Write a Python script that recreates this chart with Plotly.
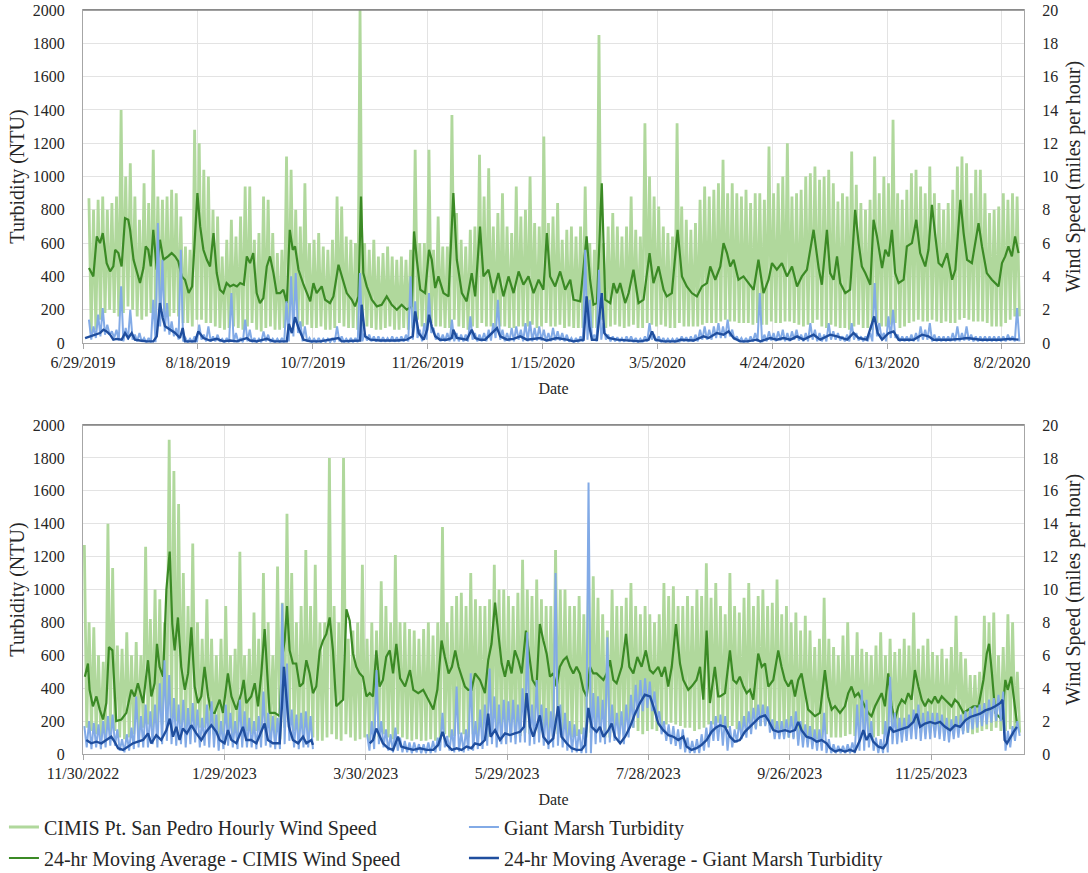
import pandas as pd
import plotly.graph_objects as go

# ---------------------------------------------------------------------------
# Hourly records summarised as 2-day bins: highest and lowest hourly value
# in each bin (wind in mph, turbidity in NTU).
# ---------------------------------------------------------------------------
BIN_START_2019 = "2019-07-01"
BIN_START_2022 = "2022-11-30"

wind_hi_2019 = [
    8.7, 8.0, 8.6, 8.8, 8.0, 8.4, 8.8, 14.0, 10.0, 10.8,
    8.8, 7.4, 9.6, 8.4, 11.6, 8.8, 8.6, 8.8, 9.2, 9.0,
    7.6, 5.8, 5.6, 12.8, 12.0, 10.4, 10.0, 8.0, 7.6, 5.2,
    6.2, 7.4, 6.4, 7.6, 9.4, 9.4, 6.2, 6.6, 8.8, 8.6,
    6.6, 5.4, 5.6, 11.2, 10.4, 8.0, 7.0, 9.6, 6.0, 6.2,
    6.6, 5.8, 5.6, 6.2, 8.8, 8.2, 6.4, 6.2, 6.0, 20.0,
    6.0, 5.6, 6.2, 5.2, 5.4, 5.8, 5.2, 5.0, 5.2, 5.0,
    5.6, 11.6, 6.0, 6.0, 11.6, 5.6, 7.6, 5.8, 5.8, 13.7,
    7.8, 6.2, 5.8, 6.8, 7.0, 11.3, 8.8, 10.5, 7.0, 7.8,
    9.0, 7.0, 6.6, 9.4, 7.6, 8.0, 10.0, 7.2, 7.0, 12.4,
    7.2, 7.6, 8.4, 6.2, 6.8, 7.0, 6.4, 7.0, 9.4, 6.0,
    5.6, 18.5, 6.0, 7.0, 7.8, 7.0, 6.4, 7.0, 8.8, 6.8,
    6.4, 13.2, 10.0, 8.8, 8.2, 7.0, 6.6, 6.4, 13.2, 8.2,
    7.4, 6.8, 7.2, 8.6, 9.4, 8.8, 9.2, 9.6, 11.0, 9.0,
    9.6, 9.0, 8.8, 9.2, 8.4, 9.0, 9.0, 8.6, 11.8, 9.0,
    9.6, 10.0, 12.0, 8.8, 9.0, 9.2, 10.0, 10.2, 10.6, 9.8,
    10.0, 10.4, 9.6, 8.5, 9.0, 8.8, 11.5, 9.5, 8.4, 8.0,
    8.6, 11.2, 9.0, 10.0, 9.6, 13.4, 9.0, 8.6, 9.2, 10.2,
    10.4, 9.4, 9.0, 10.6, 9.0, 8.4, 8.0, 8.4, 9.2, 10.6,
    11.2, 10.8, 9.0, 10.4, 10.4, 9.0, 7.8, 8.0, 8.2, 9.0,
    8.6, 9.0, 8.8,
]
wind_lo_2019 = [
    0.6, 0.8, 1.4, 1.8, 2.0, 1.8, 1.6, 1.8, 2.2, 2.0,
    1.6, 1.4, 1.6, 1.8, 1.6, 2.0, 1.8, 1.6, 1.8, 1.6,
    1.2, 1.2, 1.0, 1.4, 1.4, 1.2, 1.2, 1.0, 0.9, 0.8,
    0.9, 1.0, 0.9, 0.8, 1.0, 1.2, 0.8, 0.7, 0.9, 1.0,
    0.8, 0.8, 0.9, 1.4, 1.6, 1.2, 1.0, 1.1, 0.9, 0.9,
    1.0, 0.8, 0.8, 0.9, 1.2, 1.0, 0.9, 0.9, 0.8, 1.0,
    1.0, 0.9, 0.8, 0.8, 0.9, 1.0, 0.8, 0.8, 0.9, 0.8,
    0.9, 1.4, 1.0, 0.9, 1.2, 1.0, 1.0, 0.9, 0.9, 1.4,
    1.0, 0.9, 0.8, 1.0, 0.9, 1.2, 1.0, 1.0, 0.9, 1.0,
    1.0, 0.9, 0.9, 1.0, 1.0, 1.0, 1.1, 0.9, 1.0, 1.2,
    1.0, 1.0, 1.1, 0.9, 1.0, 0.9, 0.9, 0.9, 1.2, 0.9,
    0.9, 1.4, 0.9, 1.0, 1.1, 1.0, 0.9, 1.0, 1.1, 0.9,
    0.9, 1.2, 1.1, 1.0, 1.1, 1.0, 0.9, 0.9, 1.2, 1.0,
    1.0, 1.0, 1.0, 1.1, 1.2, 1.2, 1.2, 1.3, 1.4, 1.3,
    1.3, 1.2, 1.2, 1.2, 1.1, 1.2, 1.1, 1.1, 1.3, 1.2,
    1.2, 1.3, 1.3, 1.2, 1.1, 1.0, 1.1, 1.2, 1.4, 1.0,
    0.9, 1.1, 1.0, 0.9, 0.9, 0.8, 1.0, 1.1, 0.9, 0.9,
    0.8, 1.2, 1.0, 1.0, 1.1, 1.2, 0.9, 1.0, 1.2, 1.3,
    1.4, 1.3, 1.3, 1.4, 1.3, 1.2, 1.3, 1.2, 1.2, 1.4,
    1.5, 1.4, 1.3, 1.3, 1.3, 1.2, 1.0, 1.0, 1.0, 1.2,
    1.4, 1.6, 1.6,
]
turb_hi_2019 = [
    140, 100, 170, 210, 110, 70, 80, 340, 90, 200,
    50, 60, 30, 30, 260, 720, 500, 240, 130, 90,
    560, 30, 25, 40, 110, 50, 100, 40, 50, 25,
    30, 300, 60, 30, 140, 80, 30, 25, 70, 50,
    25, 25, 30, 250, 400, 420, 130, 100, 30, 25,
    30, 25, 25, 30, 100, 40, 25, 30, 30, 420,
    60, 50, 40, 40, 35, 30, 40, 35, 40, 50,
    400, 250, 80, 120, 300, 90, 60, 50, 60, 140,
    60, 50, 50, 160, 60, 50, 60, 80, 120, 260,
    80, 60, 90, 100, 80, 120, 130, 90, 100, 80,
    60, 90, 70, 60, 50, 30, 30, 40, 560, 260,
    50, 440, 120, 50, 40, 35, 30, 40, 40, 30,
    25, 40, 120, 50, 40, 30, 25, 25, 30, 40,
    35, 40, 50, 80, 100, 80, 100, 120, 100, 140,
    80, 40, 30, 30, 40, 60, 300, 50, 70, 60,
    70, 80, 60, 70, 80, 50, 60, 120, 80, 60,
    50, 120, 70, 60, 40, 50, 120, 60, 40, 40,
    60, 360, 120, 60, 160, 200, 50, 40, 40, 50,
    60, 100, 80, 120, 50, 40, 40, 40, 60, 100,
    60, 100, 50, 40, 40, 40, 40, 40, 40, 40,
    50, 40, 210,
]
turb_lo_2019 = [
    20, 30, 40, 50, 50, 30, 15, 10, 20, 20,
    10, 8, 5, 5, 5, 100, 70, 50, 40, 20,
    10, 5, 5, 5, 20, 10, 8, 10, 8, 5,
    5, 5, 5, 5, 10, 5, 5, 5, 10, 5,
    5, 5, 5, 10, 40, 60, 10, 8, 5, 5,
    5, 5, 5, 5, 10, 5, 5, 5, 5, 10,
    15, 10, 8, 8, 8, 8, 8, 8, 8, 10,
    20, 30, 10, 20, 60, 20, 10, 10, 10, 10,
    10, 10, 10, 20, 10, 10, 10, 15, 30, 20,
    10, 10, 10, 20, 10, 10, 10, 15, 15, 10,
    10, 15, 15, 10, 8, 5, 5, 8, 20, 20,
    10, 20, 20, 10, 10, 8, 8, 8, 5, 5,
    5, 8, 20, 10, 5, 5, 5, 5, 5, 10,
    8, 8, 10, 20, 20, 20, 30, 30, 30, 40,
    20, 8, 5, 5, 8, 8, 5, 10, 15, 10,
    15, 10, 10, 20, 15, 10, 10, 20, 10, 10,
    10, 20, 20, 15, 10, 10, 20, 15, 10, 10,
    10, 40, 30, 10, 30, 30, 10, 10, 10, 10,
    10, 20, 20, 10, 10, 10, 10, 10, 10, 10,
    15, 15, 10, 10, 10, 10, 10, 10, 10, 10,
    15, 10, 10,
]

wind_hi_2022 = [
    12.7, 8.0, 7.7, 6.0, 5.6, 14.0, 11.3, 6.6, 6.4, 7.4,
    6.0, 6.8, 6.0, 12.6, 8.2, 10.0, 9.4, 8.0, 19.1, 17.2,
    15.2, 11.0, 9.0, 12.8, 8.0, 7.0, 9.4, 7.0, 6.0, 7.0,
    9.0, 6.0, 6.4, 12.3, 6.0, 6.4, 8.6, 7.0, 11.0, 8.0,
    6.0, 11.4, 9.2, 14.6, 11.0, 8.0, 9.0, 12.4, 9.0, 11.5,
    8.0, 8.0, 18.0, 9.0, 8.0, 18.0, 7.0, 7.5, 8.0, 11.5,
    7.0, 8.0, 7.5, 10.5, 9.0, 8.0, 12.1, 8.0, 8.0, 7.6,
    7.5, 7.0, 7.6, 8.0, 7.2, 8.0, 13.8, 8.0, 9.0, 9.6,
    9.8, 9.0, 11.0, 9.4, 9.0, 9.0, 9.4, 11.5, 10.0, 10.0,
    9.6, 9.0, 9.8, 11.8, 10.0, 9.6, 10.6, 9.4, 9.0, 9.0,
    12.4, 10.0, 10.0, 9.0, 9.0, 9.6, 8.5, 10.5, 10.8, 9.5,
    8.5, 7.5, 10.0, 9.0, 9.0, 9.5, 10.4, 9.0, 8.5, 9.0,
    8.5, 8.0, 8.5, 10.4, 9.6, 10.2, 9.0, 9.0, 9.6, 9.0,
    10.0, 9.6, 11.6, 9.5, 10.4, 9.0, 8.5, 11.0, 9.0, 8.6,
    9.5, 10.4, 9.0, 9.6, 10.0, 9.0, 9.2, 10.6, 8.5, 9.0,
    8.0, 8.6, 7.5, 8.4, 7.5, 6.5, 7.0, 9.5, 7.0, 6.5,
    6.0, 7.2, 8.0, 6.0, 7.4, 6.4, 6.2, 6.0, 6.6, 7.4,
    6.0, 7.0, 6.2, 6.4, 7.0, 6.6, 8.6, 6.4, 6.6, 7.0,
    6.2, 6.0, 6.4, 5.8, 6.5, 8.4, 6.2, 5.8, 4.8, 4.8,
    5.0, 8.4, 8.0, 8.6, 6.0, 6.5, 8.5, 8.0, 5.0,
]
wind_lo_2022 = [
    1.6, 1.4, 1.2, 1.0, 1.0, 1.2, 1.4, 1.0, 0.9, 1.0,
    1.2, 1.4, 1.6, 1.8, 1.6, 1.4, 1.8, 2.0, 2.2, 2.0,
    1.8, 1.6, 1.8, 1.6, 1.6, 1.6, 1.4, 1.2, 1.0, 1.2,
    1.4, 1.2, 1.0, 1.2, 1.4, 1.2, 1.4, 1.0, 1.6, 1.2,
    1.0, 0.9, 1.6, 2.0, 1.4, 1.2, 1.0, 1.2, 1.0, 0.8,
    0.8, 1.0, 1.2, 0.9, 0.8, 1.2, 1.0, 0.8, 0.9, 1.0,
    0.8, 0.9, 1.0, 1.2, 1.0, 0.9, 1.2, 1.0, 0.9, 0.8,
    0.9, 0.8, 0.8, 0.9, 0.8, 0.9, 1.2, 1.0, 1.1, 1.2,
    1.2, 1.0, 1.2, 1.1, 1.0, 1.0, 1.2, 1.4, 1.2, 1.2,
    1.1, 1.0, 1.1, 1.3, 1.2, 1.1, 1.3, 1.2, 1.2, 1.1,
    1.2, 1.2, 1.1, 1.0, 1.1, 1.2, 1.0, 1.3, 1.4, 1.2,
    1.0, 1.0, 1.4, 1.2, 1.3, 1.5, 1.6, 1.4, 1.2, 1.4,
    1.5, 1.4, 1.6, 1.8, 1.9, 1.8, 1.7, 1.6, 1.6, 1.4,
    1.5, 1.6, 1.8, 1.8, 1.9, 1.8, 1.6, 1.7, 1.5, 1.4,
    1.5, 1.6, 1.6, 1.7, 1.8, 1.7, 1.4, 1.3, 1.2, 1.0,
    1.0, 0.9, 0.9, 1.0, 1.0, 0.9, 0.9, 1.2, 1.0, 1.0,
    1.0, 1.1, 1.2, 1.1, 1.2, 1.2, 1.1, 1.0, 1.1, 1.2,
    1.1, 1.3, 1.3, 1.2, 1.3, 1.4, 1.5, 1.3, 1.2, 1.3,
    1.4, 1.4, 1.3, 1.3, 1.4, 1.5, 1.4, 1.3, 1.2, 1.3,
    1.4, 1.5, 1.4, 1.6, 1.4, 1.4, 1.5, 1.4, 1.3,
]
turb_hi_2022 = [
    170, 200, 190, 180, 200, 230, 240, 150, 90, 120,
    160, 350, 230, 300, 260, 300, 430, 570, 480, 340,
    300, 330, 280, 310, 270, 220, 300, 320, 240, 200,
    300, 250, 200, 330, 260, 220, 200, 230, 380, 250,
    230, 220, 915, 550, 270, 240, 250, 260, 230, None,
    None, None, None, None, None, None, None, None, None, None,
    120, 200, 510, 200, 150, 120, 160, 100, 80, 70,
    70, 60, 60, 70, 80, 100, 250, 110, 150, 410,
    130, 150, 490, 200, 270, 300, 520, 350, 300, 330,
    320, 330, 300, 400, 740, 300, 450, 300, 280, 260,
    1100, 300, 250, 200, 180, 150, 160, 1650, 370, 350,
    330, 710, 300, 250, 260, 300, 360, 420, 450, 460,
    440, 380, 260, 200, 180, 170, 150, 150, 100, 80,
    90, 120, 160, 200, 230, 240, 230, 170, 150, 200,
    230, 260, 280, 300, 300, 290, 210, 200, 200, 210,
    230, 260, 200, 180, 170, 150, 150, 250, 90, 60,
    50, 50, 60, 70, 300, 390, 330, 200, 100, 90,
    200, 470, 250, 220, 220, 240, 270, 300, 250, 260,
    250, 250, 240, 220, 210, 230, 240, 260, 280, 290,
    300, 310, 330, 340, 360, 380, 140, 170, 200,
]
turb_lo_2022 = [
    40, 30, 40, 30, 40, 50, 50, 20, 10, 20,
    30, 40, 40, 40, 60, 40, 60, 80, 60, 50,
    60, 40, 60, 70, 40, 50, 40, 40, 20, 30,
    50, 40, 30, 40, 40, 40, 30, 40, 50, 40,
    30, 30, 60, 80, 40, 30, 40, 40, 30, None,
    None, None, None, None, None, None, None, None, None, None,
    20, 30, 60, 40, 20, 10, 20, 10, 10, 5,
    10, 5, 5, 5, 10, 20, 40, 20, 10, 15,
    10, 20, 20, 30, 30, 50, 60, 40, 60, 60,
    70, 60, 70, 70, 50, 60, 70, 50, 30, 40,
    50, 40, 20, 10, 10, 5, 5, 5, 60, 70,
    60, 70, 80, 80, 60, 100, 160, 220, 260, 280,
    260, 200, 120, 80, 60, 50, 30, 10, 5, 5,
    5, 20, 40, 80, 80, 50, 20, 40, 70, 90,
    100, 120, 150, 170, 170, 130, 90, 90, 90, 100,
    90, 50, 40, 40, 30, 20, 20, 5, 5, 5,
    5, 5, 5, 5, 20, 20, 40, 20, 5, 5,
    10, 60, 60, 70, 80, 90, 90, 80, 90, 90,
    100, 90, 80, 70, 90, 100, 120, 130, 150, 160,
    170, 180, 190, 200, 200, 20, 40, 80, 110,
]

# ---------------------------------------------------------------------------
# 24-hr moving averages as (days after origin, value) pairs.
# ---------------------------------------------------------------------------
ORIGIN_2019 = "2019-06-29"
ORIGIN_2022 = "2022-11-30"

wind_avg_2019 = [
    (2.6, 4.5), (4.5, 4.0), (6, 6.4), (7.4, 6.0), (8.6, 6.6), (10.3, 4.8), (11.8, 4.3),
    (13.2, 4.6), (14, 5.6), (15.4, 5.4), (16.8, 4.6), (18.3, 7.5), (19.7, 7.4), (20.5, 6.8),
    (22, 5.0), (23.4, 4.3), (24.8, 3.6), (26.3, 4.5), (27.3, 5.8), (28.4, 5.6), (29.5, 4.6),
    (30.6, 6.8), (32.1, 4.4), (33.5, 6.2), (35, 5.0), (37, 5.2), (38.6, 5.4), (40.1, 5.2),
    (41.5, 4.9), (43, 4.0), (44.4, 3.8), (46, 3.0), (47.5, 3.4), (49.8, 9.0), (51, 7.0),
    (52.4, 5.6), (53.9, 5.0), (55.3, 4.6), (56.8, 6.6), (58.2, 4.2), (59.6, 3.2), (61.1, 3.0),
    (62.5, 3.6), (64, 3.4), (65.5, 3.5), (67, 3.4), (68.4, 3.6), (70, 3.5), (71.3, 5.2),
    (72.7, 4.8), (74.1, 5.4), (75.6, 3.0), (77, 2.4), (78.5, 2.7), (80, 4.6), (81.4, 5.2),
    (82.9, 4.2), (84.3, 3.0), (85.8, 3.0), (87.2, 3.2), (88.7, 2.4), (90, 6.8), (91.3, 5.6),
    (92.3, 5.8), (93.8, 4.4), (96, 3.5), (98.9, 2.5), (100.3, 3.6), (101.7, 3.0), (103.9, 3.4),
    (105.4, 2.6), (107.5, 2.4), (109, 2.8), (111.2, 4.7), (112.6, 4.0), (114.8, 3.0), (117, 2.6),
    (118.4, 2.2), (119.9, 2.8), (121, 8.8), (122, 4.2), (123.5, 3.4), (125.7, 2.6), (127.9, 2.2),
    (130, 2.3), (132.2, 2.8), (134.4, 2.3), (136.6, 2.0), (138.7, 2.3), (140.9, 2.0), (143.1, 2.2),
    (144.1, 6.7), (145.3, 5.0), (146.8, 3.2), (148.9, 3.0), (150.6, 5.6), (151.8, 5.0), (153.3, 3.3),
    (154.7, 4.0), (156.9, 3.0), (159.1, 2.8), (161.2, 9.0), (162.7, 5.0), (164.9, 3.0), (167, 2.5),
    (169.2, 4.2), (170.7, 2.8), (172.8, 7.0), (174.3, 4.0), (176.5, 4.4), (178.6, 3.0), (180.8, 4.2),
    (183, 2.8), (185.2, 4.0), (187.4, 3.0), (189.6, 4.3), (191.7, 3.5), (193.9, 4.0), (196.1, 3.0),
    (198.3, 3.8), (200.4, 3.2), (201.9, 6.6), (203.3, 4.0), (205.5, 3.4), (207.7, 4.3), (209.9, 3.2),
    (212.1, 3.8), (213.5, 2.6), (216.4, 2.5), (219.2, 6.4), (220.7, 3.8), (222.2, 2.3), (223.7, 2.4),
    (225.8, 9.6), (227.3, 2.6), (229.5, 2.4), (230.9, 3.6), (232.4, 3.0), (233.8, 3.6), (236, 2.4),
    (237.5, 3.0), (239.6, 4.4), (241.8, 2.4), (244, 2.6), (246.6, 5.4), (248.3, 3.6), (250.5, 4.6),
    (252.7, 3.2), (254.1, 2.8), (256.3, 3.0), (258.8, 6.8), (260.7, 4.0), (262.8, 3.4), (265, 3.0),
    (267.2, 2.8), (269.4, 3.4), (271.6, 3.6), (273, 4.6), (275.2, 3.8), (277.4, 4.6), (278.8, 6.0),
    (280.3, 5.4), (281.7, 4.6), (283.2, 5.0), (285.3, 3.8), (287.5, 4.0), (289.7, 3.6), (291.9, 3.2),
    (294, 5.0), (296.2, 3.0), (298.4, 3.8), (299.9, 4.8), (302, 4.4), (304.2, 4.8), (306.4, 4.0),
    (308.6, 4.6), (310.8, 3.4), (312.9, 4.0), (315.1, 4.4), (318, 6.8), (320.2, 4.5), (321.6, 3.5),
    (323.8, 6.8), (325.2, 4.2), (326.7, 3.8), (328.2, 5.2), (329.6, 3.6), (331.8, 3.0), (333.9, 3.2),
    (336.1, 8.0), (337.6, 6.0), (339, 4.6), (340.5, 4.2), (342.7, 3.5), (344.1, 7.4), (345.6, 6.4),
    (347.8, 4.5), (349.2, 5.6), (350.7, 5.2), (352.1, 6.8), (353.5, 4.2), (355, 3.6), (357.2, 3.8),
    (358.6, 5.8), (360.8, 6.0), (362.7, 7.4), (364.4, 5.4), (366.6, 4.6), (368, 5.6), (369.5, 8.3),
    (371, 6.4), (372.4, 4.8), (373.9, 4.6), (376.1, 5.4), (378.3, 3.8), (379.7, 4.4), (381.9, 8.6),
    (383.3, 6.6), (384.8, 5.0), (386.9, 4.8), (389.8, 7.2), (391.3, 5.8), (393.4, 4.2), (395.6, 3.8),
    (398.5, 3.4), (400, 4.8), (401.4, 5.2), (402.8, 5.8), (404.3, 5.2), (405.7, 6.4), (407.2, 5.4),
]
turb_avg_2019 = [
    (0.9, 30), (3, 40), (6, 50), (7.4, 60), (8.9, 80), (10.3, 70), (11.8, 50), (13.2, 20),
    (14.7, 25), (16.8, 20), (18.3, 60), (19.7, 30), (21.2, 60), (22.6, 20), (24.8, 15),
    (27.7, 10), (30.6, 10), (32.1, 40), (33.5, 240), (34.7, 150), (35.7, 100), (37.9, 80),
    (40.1, 60), (42.2, 30), (43.4, 90), (44.4, 10), (48.8, 10), (50.2, 70), (52.4, 30),
    (55.3, 15), (58.2, 25), (61.1, 10), (64, 15), (66.9, 10), (71.3, 30), (72.7, 15),
    (75.6, 10), (80, 25), (82.9, 10), (88.7, 10), (89.6, 115), (90.9, 60), (92.3, 155),
    (93.8, 90), (96, 20), (98.9, 10), (103.2, 10), (111.2, 30), (112.6, 10), (120.6, 15),
    (121.3, 230), (122.8, 40), (125, 20), (129.3, 15), (136.6, 15), (140.9, 20), (143.5, 40),
    (144.6, 190), (146.1, 60), (148.3, 20), (149.8, 80), (150.6, 170), (151.8, 100), (153.3, 40),
    (155.4, 20), (158.3, 20), (160.5, 30), (161.2, 80), (162.7, 30), (167, 20), (169.2, 80),
    (170.7, 30), (172.8, 20), (175, 20), (176.5, 40), (180.2, 90), (181.6, 40), (184.6, 20),
    (187.4, 25), (190.3, 40), (193.2, 20), (196.1, 25), (199, 30), (201.9, 15), (206.2, 30),
    (210.6, 20), (213.5, 10), (217.9, 20), (219.2, 280), (220.4, 100), (221.5, 20), (223.7, 20),
    (225.8, 300), (226.9, 60), (228.7, 30), (232.4, 20), (236.8, 15), (242.5, 10), (246.2, 20),
    (247.7, 70), (249.1, 20), (252.7, 10), (258.5, 10), (260, 20), (265.8, 15), (270.1, 40),
    (272.3, 30), (275.9, 60), (278.8, 50), (281, 70), (283.2, 30), (286.1, 10), (289, 10),
    (293.4, 20), (294.8, 10), (299.1, 30), (302, 20), (304.9, 30), (307.9, 20), (310.8, 40),
    (313.6, 20), (318, 50), (320.9, 20), (325.2, 50), (328.2, 40), (332.6, 20), (335.4, 60),
    (337.6, 30), (341.2, 20), (344.4, 160), (345.9, 60), (347.8, 20), (350.7, 60), (352.8, 70),
    (355, 20), (361.5, 20), (365.2, 50), (368, 40), (370.2, 20), (377.4, 20), (381.9, 25),
    (384.8, 30), (390.6, 20), (399.3, 20), (403.6, 25), (407.2, 20),
]

wind_avg_2022 = [
    (0.8, 4.7), (2.1, 5.5), (2.8, 3.9), (4.2, 2.9), (5.7, 3.5), (7.1, 2.7), (8.5, 2.1), (9.9, 3.1),
    (11, 6.5), (12.5, 6.3), (13.4, 3.9), (14.1, 2.0), (16.3, 2.1), (18.4, 2.5), (20.5, 3.9),
    (21.9, 3.5), (23.3, 4.3), (25.5, 3.1), (27.6, 5.7), (29, 3.5), (30.4, 4.3), (31.4, 6.7),
    (32.5, 5.3), (34, 4.7), (35.4, 10.0), (36.8, 12.3), (37.9, 7.9), (38.9, 6.3), (40.3, 8.3),
    (41.7, 5.3), (43.2, 3.9), (44.6, 4.9), (46, 7.7), (47.4, 4.1), (48.8, 3.1), (50.2, 3.5),
    (51.6, 5.3), (53.1, 3.5), (54.5, 2.5), (55.9, 2.5), (58, 3.3), (59.4, 2.5), (61.5, 4.9),
    (63, 3.5), (65.1, 2.7), (67.2, 3.7), (68.2, 4.5), (69.3, 3.1), (71.4, 3.5), (72.9, 4.3),
    (74.3, 2.9), (75.7, 4.9), (77.1, 7.6), (78.1, 5.3), (79.2, 2.5), (81.4, 2.5), (83.5, 2.3),
    (84.6, 5.9), (85.6, 6.9), (86.6, 9.0), (87.7, 6.3), (89.1, 5.5), (90.5, 5.5), (92, 4.1),
    (93.4, 4.3), (94.8, 5.7), (96.2, 4.9), (97.6, 3.7), (99, 4.1), (100.5, 6.3), (101.9, 6.9),
    (103.3, 7.3), (104.7, 8.3), (106.1, 6.3), (107.5, 2.9), (108.9, 3.1), (110.4, 3.3),
    (111.8, 8.8), (113.2, 8.1), (114.6, 6.1), (116, 5.3), (117.4, 4.9), (118.8, 4.7), (120.3, 3.5),
    (121.7, 3.7), (123.1, 3.5), (124.5, 6.3), (125.9, 4.1), (127.3, 4.5), (128.7, 5.9),
    (130.2, 6.3), (131.6, 4.9), (133, 6.7), (134.6, 4.6), (136.7, 4.1), (138.8, 5.1), (140.2, 3.9),
    (142.3, 3.7), (144.4, 3.9), (146.6, 3.3), (148.7, 2.7), (150.4, 3.9), (152.2, 6.9),
    (153.6, 5.9), (155.2, 4.9), (156.6, 5.3), (158, 6.3), (159.4, 5.3), (160.7, 4.7), (162.1, 4.1),
    (163.5, 3.9), (164.9, 3.9), (166.4, 4.9), (168.5, 4.5), (170.6, 3.7), (172, 5.7), (173.4, 6.7),
    (174.9, 9.2), (176.3, 7.3), (177.7, 5.5), (179.1, 4.7), (180.5, 5.7), (181.9, 4.9),
    (183.3, 6.3), (184.8, 5.7), (186.2, 4.9), (188, 7.5), (189.4, 5.9), (190.8, 4.5), (192.5, 4.1),
    (193.9, 7.9), (195.4, 6.9), (196.8, 6.1), (198.2, 4.7), (199.6, 4.9), (201, 4.1), (202.4, 5.3),
    (203.9, 5.7), (205.3, 5.9), (206.7, 5.3), (208.1, 4.9), (209.5, 5.3), (210.9, 4.9),
    (212.4, 3.9), (213.8, 3.5), (215.2, 5.3), (216.6, 4.9), (218, 4.9), (219.4, 4.7), (220.9, 4.5),
    (222.3, 4.9), (223.7, 5.7), (225.1, 4.5), (226.5, 4.3), (228.7, 5.3), (230.5, 7.3),
    (231.9, 5.3), (233.6, 4.9), (235.3, 5.9), (237.1, 5.3), (238.9, 6.3), (240.6, 5.1), (242, 4.9),
    (244.2, 5.3), (245.6, 4.7), (247, 5.3), (248.4, 4.1), (249.9, 5.3), (251.7, 7.9), (253.4, 5.5),
    (254.8, 4.5), (256.9, 3.9), (258.3, 4.1), (260.4, 4.5), (261.9, 5.3), (263.3, 3.3),
    (264.7, 7.5), (266.1, 3.1), (268.2, 5.3), (269.6, 3.5), (270.4, 3.5), (272.5, 3.7),
    (274.6, 6.3), (276, 4.5), (277.4, 4.3), (278.8, 4.7), (280.3, 4.1), (281.7, 3.7), (283.1, 3.9),
    (284.5, 3.3), (286.6, 6.1), (288.1, 5.3), (289.5, 5.5), (290.9, 4.1), (293, 4.5), (295.1, 6.3),
    (296.5, 5.3), (297.9, 4.5), (299.4, 4.1), (300.8, 4.5), (302.2, 3.5), (303.6, 4.5), (305, 4.9),
    (306.4, 3.7), (307.8, 2.7), (309.3, 2.5), (310.7, 2.3), (312.8, 2.5), (314.9, 5.1),
    (316.3, 3.5), (317.8, 2.7), (319.2, 2.9), (321.3, 2.5), (323.4, 2.9), (324.8, 3.7),
    (326.2, 4.1), (327.6, 3.5), (329.1, 3.7), (330.5, 3.3), (331.9, 2.9), (333.3, 2.5),
    (334.7, 2.3), (336.2, 2.9), (337.6, 3.3), (339, 3.7), (340.4, 2.9), (341.8, 4.9), (343.2, 2.9),
    (344.6, 2.1), (346.1, 2.9), (347.5, 3.3), (348.9, 3.1), (350.3, 3.7), (351.7, 3.3),
    (353.1, 5.1), (354.6, 4.1), (356, 3.3), (357.4, 2.9), (358.8, 3.3), (360.2, 3.1), (361.6, 3.5),
    (363, 3.1), (364.5, 3.5), (365.9, 3.3), (367.3, 3.1), (368.7, 2.9), (370.1, 3.3), (371.5, 3.1),
    (373.7, 2.5), (375.8, 2.7), (377.9, 2.9), (380.1, 2.9), (382.2, 4.5), (383.6, 6.1),
    (384.6, 6.7), (385.8, 4.9), (387.2, 2.5), (388.6, 2.3), (390, 2.1), (391.5, 4.5), (392.5, 3.9),
    (394, 4.7), (395, 3.5), (396.4, 1.9),
]
turb_avg_2022 = [
    (1.4, 85), (3.5, 65), (5.7, 75), (7.8, 65), (9.9, 85), (12, 105), (13.4, 75), (14.9, 35),
    (17, 25), (19.1, 45), (21.2, 65), (23.3, 75), (25.5, 85), (27.6, 125), (29, 65), (31.1, 115),
    (33.2, 85), (35.4, 145), (36.8, 215), (38.2, 105), (39.6, 165), (41, 85), (42.4, 155),
    (44.1, 125), (46, 175), (48.1, 125), (50.2, 85), (52.3, 135), (54.5, 175), (56.6, 135),
    (58, 85), (60.1, 65), (61.5, 145), (63, 85), (65.1, 65), (67.9, 165), (69.3, 85), (71.4, 85),
    (73.6, 65), (77.1, 185), (78.5, 85), (80.6, 65), (83.5, 65), (84.6, 330), (85.3, 530),
    (86.3, 350), (87.4, 165), (89.1, 85), (91.3, 65), (93.4, 105), (94.8, 65), (96.9, 85),
    (97.6, 55), (110, None), (121.7, 65), (123.1, 85), (124.5, 155), (125.9, 105), (127.3, 65),
    (129.5, 35), (131.6, 25), (133.7, 105), (135.1, 45), (137.4, 35), (140.2, 25), (143, 35),
    (145.9, 25), (148.7, 25), (150.8, 55), (152.6, 135), (154.4, 55), (156.6, 25), (158.6, 35),
    (160.7, 25), (162.8, 45), (164.9, 35), (166.4, 65), (168.5, 55), (170.6, 85), (172, 245),
    (173, 105), (174.9, 145), (177, 85), (179.1, 125), (181.2, 115), (183.3, 125), (185.5, 135),
    (187.2, 165), (188.3, 370), (189.7, 165), (191.1, 105), (192.5, 165), (193.9, 235),
    (195.4, 105), (197.5, 65), (199.6, 95), (201.7, 290), (203.1, 105), (205.3, 65), (207.4, 35),
    (209.5, 25), (211.6, 25), (213.1, 55), (214.5, 280), (215.9, 165), (218, 135), (219.4, 165),
    (220.9, 105), (223, 145), (224.4, 185), (225.8, 105), (228, 65), (230.1, 105), (232.2, 165),
    (234.3, 245), (236.4, 310), (238.5, 360), (240.7, 350), (242.1, 290), (244.2, 185),
    (246.3, 145), (248.5, 115), (250.6, 105), (252.7, 85), (254.8, 105), (256.2, 45), (258.3, 25),
    (260.4, 35), (262.5, 55), (264.7, 85), (266.8, 135), (268.6, 160), (270.4, 175), (272.5, 165),
    (274.6, 105), (276.7, 75), (278.8, 85), (280.9, 135), (283.1, 165), (285.2, 195), (287.3, 225),
    (289.5, 235), (290.9, 205), (293, 145), (295.1, 135), (298, 145), (300.1, 135), (302.2, 145),
    (303.6, 195), (305, 145), (307.1, 105), (309.3, 95), (311.4, 75), (313.5, 85), (315.6, 65),
    (317.1, 35), (319.2, 15), (321.3, 25), (323.4, 15), (325.5, 25), (327.6, 15), (329.8, 85),
    (331.2, 145), (332.6, 85), (334, 125), (335.4, 75), (337.6, 45), (339.7, 35), (341.1, 65),
    (342.5, 165), (344, 135), (346.1, 145), (348.2, 155), (350.3, 165), (352.5, 195), (353.9, 245),
    (355.3, 165), (357.4, 185), (359.6, 195), (361.7, 185), (363.8, 195), (365.9, 165),
    (368.1, 145), (370.2, 175), (372.3, 165), (374.5, 205), (376.6, 225), (378.7, 235),
    (380.8, 245), (383, 265), (385.1, 275), (387.2, 290), (389.4, 310), (390.3, 330), (391.2, 85),
    (392.2, 65), (393.6, 105), (395, 135), (396.4, 165),
]

# Axis settings
RANGE_2019 = ["2019-06-29", "2020-08-11 14:00"]
RANGE_2022 = ["2022-11-30", "2024-01-03 10:00"]
TICK_STEP_2019_DAYS = 50
TICK_STEP_2022_DAYS = 60

LEGEND_NAMES = [
    "CIMIS Pt. San Pedro Hourly Wind Speed",
    "Giant Marsh Turbidity",
    "24-hr Moving Average - CIMIS Wind Speed",
    "24-hr Moving Average - Giant Marsh Turbidity",
]

LIGHT_GREEN = "#b0d89c"
DARK_GREEN = "#3b8a25"
LIGHT_BLUE = "#82aae6"
DARK_BLUE = "#1f4e9e"
FONT = "Liberation Serif"
TEXT = "#262626"
GRID = "#e3e3e3"
AXLINE = "#a6a6a6"


def zigzag(start, highs, lows):
    """Hourly series drawn as alternating daily-peak / overnight-low points."""
    t0 = pd.Timestamp(start)
    xs, ys = [], []
    for k, (hi, lo) in enumerate(zip(highs, lows)):
        day = t0 + pd.Timedelta(days=2 * k)
        xs += [day + pd.Timedelta(hours=14), day + pd.Timedelta(hours=38)]
        ys += [hi, lo]
    return xs, ys


def from_pairs(origin, pairs):
    t0 = pd.Timestamp(origin)
    return [t0 + pd.Timedelta(days=d) for d, _ in pairs], [v for _, v in pairs]


fig = go.Figure()

panels = [
    dict(xa="x", wind_y="y", turb_y="y2", bins=BIN_START_2019, origin=ORIGIN_2019,
         w_hi=wind_hi_2019, w_lo=wind_lo_2019, t_hi=turb_hi_2019, t_lo=turb_lo_2019,
         w_avg=wind_avg_2019, t_avg=turb_avg_2019, legend=True),
    dict(xa="x2", wind_y="y3", turb_y="y4", bins=BIN_START_2022, origin=ORIGIN_2022,
         w_hi=wind_hi_2022, w_lo=wind_lo_2022, t_hi=turb_hi_2022, t_lo=turb_lo_2022,
         w_avg=wind_avg_2022, t_avg=turb_avg_2022, legend=False),
]

# hourly series go in the first legend row, moving averages in the second
for p in panels:
    wx, wy = zigzag(p["bins"], p["w_hi"], p["w_lo"])
    fig.add_trace(go.Scatter(
        x=wx, y=wy, mode="lines", name=LEGEND_NAMES[0], legend="legend", legendrank=1,
        line=dict(color=LIGHT_GREEN, width=2.8), xaxis=p["xa"], yaxis=p["wind_y"],
        showlegend=p["legend"], hoverinfo="skip"))
    ax, ay = from_pairs(p["origin"], p["w_avg"])
    fig.add_trace(go.Scatter(
        x=ax, y=ay, mode="lines", name=LEGEND_NAMES[2], legend="legend2", legendrank=1,
        line=dict(color=DARK_GREEN, width=2.2), xaxis=p["xa"], yaxis=p["wind_y"],
        showlegend=p["legend"]))
    tx, ty = zigzag(p["bins"], p["t_hi"], p["t_lo"])
    fig.add_trace(go.Scatter(
        x=tx, y=ty, mode="lines", name=LEGEND_NAMES[1], legend="legend", legendrank=2,
        line=dict(color=LIGHT_BLUE, width=2.0), xaxis=p["xa"], yaxis=p["turb_y"],
        showlegend=p["legend"], connectgaps=False, hoverinfo="skip"))
    bx, by = from_pairs(p["origin"], p["t_avg"])
    fig.add_trace(go.Scatter(
        x=bx, y=by, mode="lines", name=LEGEND_NAMES[3], legend="legend2", legendrank=2,
        line=dict(color=DARK_BLUE, width=2.4), xaxis=p["xa"], yaxis=p["turb_y"],
        showlegend=p["legend"], connectgaps=False))

tick_font = dict(family=FONT, size=16, color=TEXT)
title_font = dict(family=FONT, size=20, color=TEXT)


def x_axis(rng, tick0, step, anchor):
    return dict(
        domain=[0, 1], anchor=anchor, type="date", range=rng,
        tick0=tick0, dtick=step * 86400000, tickformat="%-m/%-d/%Y",
        ticks="outside", ticklen=5, tickcolor=AXLINE, tickfont=tick_font,
        showgrid=True, gridcolor=GRID, gridwidth=1,
        showline=True, linecolor=AXLINE, linewidth=1, mirror=True,
        zeroline=False, automargin=False,
        title=dict(text="Date", font=dict(family=FONT, size=16, color=TEXT), standoff=12),
    )


def wind_axis(domain, anchor):
    return dict(
        domain=domain, anchor=anchor, side="right", range=[0, 20], dtick=2,
        tickfont=tick_font, ticks="outside", ticklen=8, tickcolor="rgba(0,0,0,0)",
        ticklabelstandoff=6,
        showgrid=True, gridcolor=GRID, gridwidth=1, zeroline=False,
        showline=True, linecolor=AXLINE, linewidth=1, mirror=True, automargin=False,
        title=dict(text="Wind Speed (miles per hour)", font=title_font, standoff=8),
    )


def turb_axis(overlay, anchor):
    return dict(
        overlaying=overlay, anchor=anchor, side="left", range=[0, 2000], dtick=200,
        tickfont=tick_font, ticks="outside", ticklen=8, tickcolor="rgba(0,0,0,0)",
        ticklabelstandoff=6, showgrid=False, zeroline=False,
        automargin=False,
        title=dict(text="Turbidity (NTU)", font=title_font, standoff=2),
    )


def legend_row(y):
    return dict(
        orientation="h", x=-0.084, xanchor="left", y=y, yanchor="top",
        font=dict(family=FONT, size=20, color=TEXT),
        entrywidth=415, entrywidthmode="pixels", traceorder="normal",
        bgcolor="rgba(0,0,0,0)", itemwidth=30,
    )


fig.update_layout(
    width=1088, height=873,
    margin=dict(l=83, r=64, t=10, b=119, autoexpand=False),
    paper_bgcolor="white", plot_bgcolor="white",
    font=dict(family=FONT, color=TEXT),
    xaxis=x_axis(RANGE_2019, "2019-06-29", TICK_STEP_2019_DAYS, "y"),
    yaxis=wind_axis([0.5524, 1.0], "x"),
    yaxis2=turb_axis("y", "x"),
    xaxis2=x_axis(RANGE_2022, "2022-11-30", TICK_STEP_2022_DAYS, "y3"),
    yaxis3=wind_axis([0.0, 0.4422], "x2"),
    yaxis4=turb_axis("y3", "x2"),
    legend=legend_row(-0.0719),
    legend2=legend_row(-0.1136),
    showlegend=True,
)

# darker top edge of each plot frame
for xref, yref in (("x domain", "y domain"), ("x2 domain", "y3 domain")):
    fig.add_shape(type="line", xref=xref, yref=yref, x0=0, x1=1, y0=1, y1=1,
                  line=dict(color="#808080", width=1.5))

fig.write_html("out.html")
